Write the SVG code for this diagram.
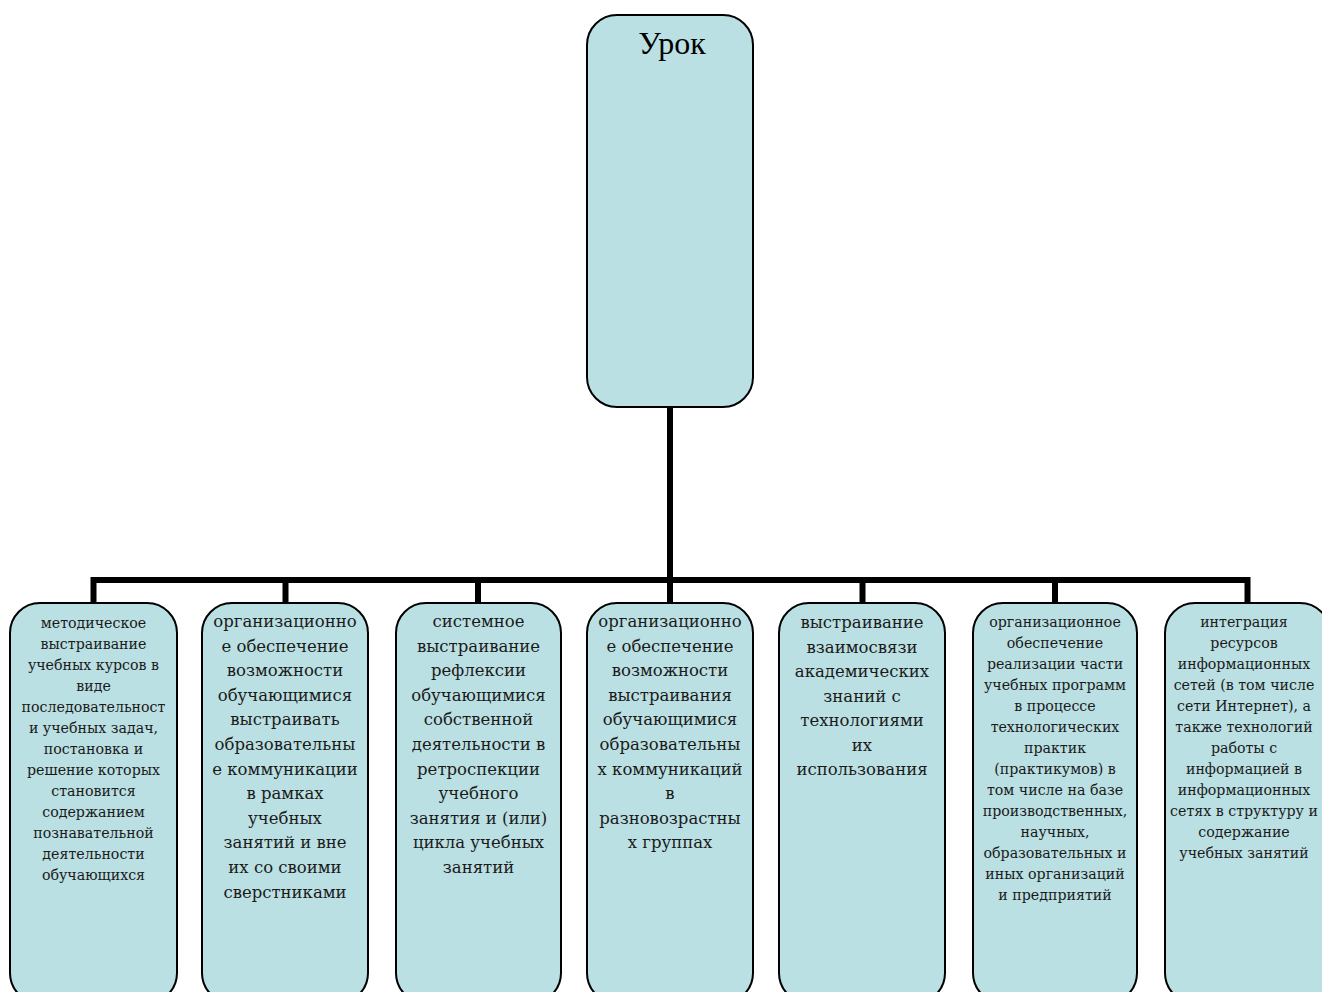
<svg xmlns="http://www.w3.org/2000/svg" width="1322" height="992" viewBox="0 0 1322 992">
<style>
.box{fill:#bbe0e3;stroke:#000;stroke-width:2}
.conn{fill:none;stroke:#000;stroke-width:6}
.big{font-family:"DejaVu Serif","Liberation Serif",serif;font-size:16.5px;fill:#1a1a1a;text-anchor:middle}
.sm{font-family:"DejaVu Serif","Liberation Serif",serif;font-size:14.2px;fill:#1a1a1a;text-anchor:middle}
.title{font-family:"Liberation Serif",serif;font-size:32px;fill:#000;text-anchor:middle}
</style>
<rect width="1322" height="992" fill="#fff"/>
<g id="connectors">
<path class="conn" d="M670 407V580M93.5 580H1247.5M93.5 577V604M285.5 577V604M478 577V604M670 577V604M862.5 577V604M1055 577V604M1247.5 577V604"/>
</g>
<g id="root">
<rect class="box" x="587" y="15" width="166" height="392" rx="30"/>
<text class="title" x="672" y="54">Урок</text>
</g>
<g id="n1">
<rect class="box" x="10" y="603" width="167" height="400" rx="30"/>
<text class="sm" x="93.5" y="628"><tspan x="93.5">методическое</tspan><tspan x="93.5" dy="21">выстраивание</tspan><tspan x="93.5" dy="21">учебных курсов в</tspan><tspan x="93.5" dy="21">виде</tspan><tspan x="93.5" dy="21">последовательност</tspan><tspan x="93.5" dy="21">и учебных задач,</tspan><tspan x="93.5" dy="21">постановка и</tspan><tspan x="93.5" dy="21">решение которых</tspan><tspan x="93.5" dy="21">становится</tspan><tspan x="93.5" dy="21">содержанием</tspan><tspan x="93.5" dy="21">познавательной</tspan><tspan x="93.5" dy="21">деятельности</tspan><tspan x="93.5" dy="21">обучающихся</tspan></text>
</g>
<g id="n2">
<rect class="box" x="202" y="603" width="166" height="400" rx="30"/>
<text class="big" x="285" y="627"><tspan x="285">организационно</tspan><tspan x="285" dy="24.6">е обеспечение</tspan><tspan x="285" dy="24.6">возможности</tspan><tspan x="285" dy="24.6">обучающимися</tspan><tspan x="285" dy="24.6">выстраивать</tspan><tspan x="285" dy="24.6">образовательны</tspan><tspan x="285" dy="24.6">е коммуникации</tspan><tspan x="285" dy="24.6">в рамках</tspan><tspan x="285" dy="24.6">учебных</tspan><tspan x="285" dy="24.6">занятий и вне</tspan><tspan x="285" dy="24.6">их со своими</tspan><tspan x="285" dy="24.6">сверстниками</tspan></text>
</g>
<g id="n3">
<rect class="box" x="396" y="603" width="165" height="400" rx="30"/>
<text class="big" x="478.5" y="627"><tspan x="478.5">системное</tspan><tspan x="478.5" dy="24.6">выстраивание</tspan><tspan x="478.5" dy="24.6">рефлексии</tspan><tspan x="478.5" dy="24.6">обучающимися</tspan><tspan x="478.5" dy="24.6">собственной</tspan><tspan x="478.5" dy="24.6">деятельности в</tspan><tspan x="478.5" dy="24.6">ретроспекции</tspan><tspan x="478.5" dy="24.6">учебного</tspan><tspan x="478.5" dy="24.6">занятия и (или)</tspan><tspan x="478.5" dy="24.6">цикла учебных</tspan><tspan x="478.5" dy="24.6">занятий</tspan></text>
</g>
<g id="n4">
<rect class="box" x="587" y="603" width="166" height="400" rx="30"/>
<text class="big" x="670" y="627"><tspan x="670">организационно</tspan><tspan x="670" dy="24.6">е обеспечение</tspan><tspan x="670" dy="24.6">возможности</tspan><tspan x="670" dy="24.6">выстраивания</tspan><tspan x="670" dy="24.6">обучающимися</tspan><tspan x="670" dy="24.6">образовательны</tspan><tspan x="670" dy="24.6">х коммуникаций</tspan><tspan x="670" dy="24.6">в</tspan><tspan x="670" dy="24.6">разновозрастны</tspan><tspan x="670" dy="24.6">х группах</tspan></text>
</g>
<g id="n5">
<rect class="box" x="779" y="603" width="166" height="400" rx="30"/>
<text class="big" x="862" y="628"><tspan x="862">выстраивание</tspan><tspan x="862" dy="24.5">взаимосвязи</tspan><tspan x="862" dy="24.5">академических</tspan><tspan x="862" dy="24.5">знаний с</tspan><tspan x="862" dy="24.5">технологиями</tspan><tspan x="862" dy="24.5">их</tspan><tspan x="862" dy="24.5">использования</tspan></text>
</g>
<g id="n6">
<rect class="box" x="973" y="603" width="164" height="400" rx="30"/>
<text class="sm" x="1055" y="627"><tspan x="1055">организационное</tspan><tspan x="1055" dy="21">обеспечение</tspan><tspan x="1055" dy="21">реализации части</tspan><tspan x="1055" dy="21">учебных программ</tspan><tspan x="1055" dy="21">в процессе</tspan><tspan x="1055" dy="21">технологических</tspan><tspan x="1055" dy="21">практик</tspan><tspan x="1055" dy="21">(практикумов) в</tspan><tspan x="1055" dy="21">том числе на базе</tspan><tspan x="1055" dy="21">производственных,</tspan><tspan x="1055" dy="21">научных,</tspan><tspan x="1055" dy="21">образовательных и</tspan><tspan x="1055" dy="21">иных организаций</tspan><tspan x="1055" dy="21">и предприятий</tspan></text>
</g>
<g id="n7">
<rect class="box" x="1165" y="603" width="165" height="400" rx="30"/>
<text class="sm" x="1244" y="627"><tspan x="1244">интеграция</tspan><tspan x="1244" dy="21">ресурсов</tspan><tspan x="1244" dy="21">информационных</tspan><tspan x="1244" dy="21">сетей (в том числе</tspan><tspan x="1244" dy="21">сети Интернет), а</tspan><tspan x="1244" dy="21">также технологий</tspan><tspan x="1244" dy="21">работы с</tspan><tspan x="1244" dy="21">информацией в</tspan><tspan x="1244" dy="21">информационных</tspan><tspan x="1244" dy="21">сетях в структуру и</tspan><tspan x="1244" dy="21">содержание</tspan><tspan x="1244" dy="21">учебных занятий</tspan></text>
</g>
</svg>
